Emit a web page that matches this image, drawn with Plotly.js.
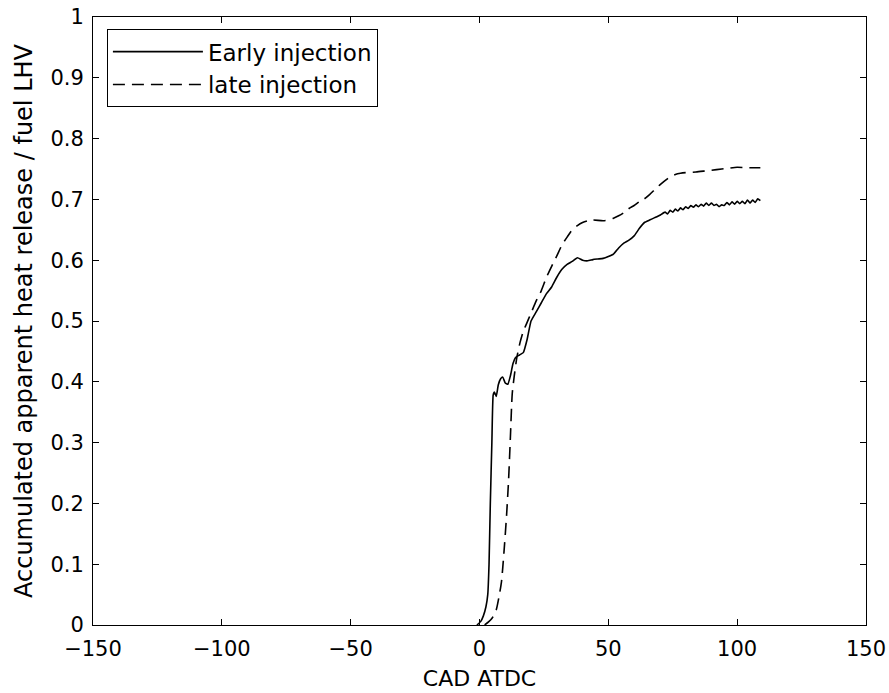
<!DOCTYPE html>
<html>
<head>
<meta charset="utf-8">
<script src="https://cdn.plot.ly/plotly-3.0.1.min.js"></script>
<style>
  html, body { margin: 0; padding: 0; background: #fff; }
  #chart { width: 889px; height: 693px; }
</style>
</head>
<body>
<div id="chart"></div>
<script>
// Early injection (solid)
const earlyX = [-1, 0.5, 1.5, 2.5, 3.2, 3.7, 4.2, 4.8, 5.3, 5.8, 6.5, 7.3, 8.2, 9, 10, 11, 12, 13, 14, 15.5, 17, 18.5, 20, 22, 24, 26, 28, 30, 32, 34, 36, 38, 40, 42, 44, 46, 48, 50, 52, 54, 56, 58, 60, 62, 64, 66, 68, 70, 72, 73, 74, 75, 76, 77, 78, 79, 80, 81, 82, 83, 84, 85, 86, 87, 88, 89, 90, 91, 92, 93, 94, 95, 96, 97, 98, 99, 100, 101, 102, 103, 104, 105, 106, 107, 108, 109];
const earlyY = [0, 0.006, 0.015, 0.03, 0.05, 0.1, 0.2, 0.3, 0.378, 0.383, 0.376, 0.395, 0.405, 0.408, 0.398, 0.396, 0.41, 0.43, 0.44, 0.444, 0.448, 0.47, 0.5, 0.515, 0.53, 0.545, 0.556, 0.572, 0.585, 0.593, 0.598, 0.604, 0.6, 0.599, 0.601, 0.602, 0.603, 0.606, 0.61, 0.62, 0.628, 0.633, 0.64, 0.652, 0.662, 0.666, 0.67, 0.674, 0.679, 0.676, 0.682, 0.679, 0.684, 0.681, 0.686, 0.683, 0.688, 0.685, 0.69, 0.687, 0.691, 0.688, 0.692, 0.689, 0.694, 0.69, 0.694, 0.69, 0.692, 0.688, 0.691, 0.69, 0.695, 0.691, 0.696, 0.692, 0.697, 0.693, 0.697, 0.693, 0.699, 0.694, 0.699, 0.695, 0.701, 0.698];

// Late injection (dashed)
const lateX = [2, 3.5, 5, 6.5, 7.5, 8.5, 9.5, 10.5, 11.3, 12, 12.7, 13.5, 14.5, 15.7, 17, 18.4, 20, 22, 24, 26, 28, 30, 32, 34, 36, 38, 40, 42, 44, 48, 50, 52, 54, 56, 58, 60, 62, 64, 66, 68, 70, 72, 74, 76, 78, 80, 84, 88, 92, 96, 100, 104, 109];
const lateY = [0, 0.005, 0.012, 0.025, 0.045, 0.07, 0.12, 0.18, 0.24, 0.31, 0.38, 0.41, 0.44, 0.464, 0.483, 0.497, 0.513, 0.533, 0.55, 0.572, 0.59, 0.607, 0.625, 0.638, 0.65, 0.657, 0.662, 0.665, 0.666, 0.665, 0.666, 0.669, 0.673, 0.678, 0.685, 0.69, 0.696, 0.701, 0.708, 0.716, 0.724, 0.731, 0.737, 0.741, 0.743, 0.744, 0.745, 0.747, 0.749, 0.751, 0.753, 0.752, 0.752];

const seriesNames = ["Early injection", "late injection"];
const xTicks = [-150, -100, -50, 0, 50, 100, 150];
const xTickText = ["\u2212150", "\u2212100", "\u221250", "0", "50", "100", "150"];
const yTicks = [0, 0.1, 0.2, 0.3, 0.4, 0.5, 0.6, 0.7, 0.8, 0.9, 1];
const yTickText = ["0", "0.1", "0.2", "0.3", "0.4", "0.5", "0.6", "0.7", "0.8", "0.9", "1"];

const FONT = "DejaVu Sans, Liberation Sans, Arial, sans-serif";

const traces = [
  { x: earlyX, y: earlyY, name: seriesNames[0], type: "scatter", mode: "lines",
    line: { color: "#000", width: 1.6, shape: "spline", smoothing: 0.4 } },
  { x: lateX, y: lateY, name: seriesNames[1], type: "scatter", mode: "lines",
    line: { color: "#000", width: 1.6, dash: "12px,7px", shape: "spline", smoothing: 0.6 } }
];

const axisCommon = {
  showline: true, linecolor: "#000", linewidth: 1, mirror: "allticks",
  ticks: "inside", ticklen: 6, tickcolor: "#000", tickwidth: 1,
  showgrid: false, zeroline: false,
  tickfont: { family: FONT, size: 21, color: "#000" }
};

const layout = {
  width: 889, height: 693,
  margin: { l: 93, r: 23, t: 17, b: 68 },
  paper_bgcolor: "#fff", plot_bgcolor: "#fff",
  showlegend: true,
  legend: {
    x: 0.018, y: 0.98, xanchor: "left", yanchor: "top",
    bordercolor: "#000", borderwidth: 1, bgcolor: "#fff",
    font: { family: FONT, size: 23, color: "#000" },
    itemwidth: 90, tracegroupgap: 0
  },
  xaxis: Object.assign({}, axisCommon, {
    range: [-150, 150], tickvals: xTicks, ticktext: xTickText,
    ticklabelstandoff: 5,
    title: { text: "CAD ATDC", font: { family: FONT, size: 22, color: "#000" }, standoff: 10 }
  }),
  yaxis: Object.assign({}, axisCommon, {
    range: [0, 1], tickvals: yTicks, ticktext: yTickText,
    ticklabelstandoff: 4,
    title: { text: "Accumulated apparent heat release / fuel LHV", font: { family: FONT, size: 24, color: "#000" }, standoff: 10 }
  })
};

Plotly.newPlot("chart", traces, layout, { displayModeBar: false, staticPlot: true });
</script>
</body>
</html>
